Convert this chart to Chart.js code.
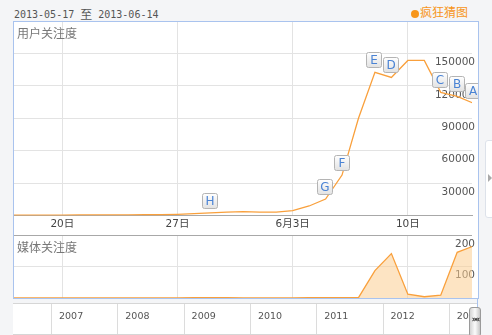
<!DOCTYPE html>
<html>
<head>
<meta charset="utf-8">
<script src="https://cdn.jsdelivr.net/npm/chart.js@4.4.0/dist/chart.umd.min.js"></script>
<style>
    html, body { margin: 0; padding: 0; }
    body { width: 492px; height: 335px; background: #f4f5f7; position: relative; overflow: hidden;
           font-family: "DejaVu Sans", "Noto Sans CJK SC", sans-serif; }
    #rango { position: absolute; left: 14px; top: 4px; font: 10px "DejaVu Sans Mono", monospace; color: #555; }
    #rango span { font: 12px "Noto Sans CJK SC"; position: relative; top: 1px; }
    #palabra { position: absolute; left: 411px; top: 3px; font: 12px "Noto Sans CJK SC"; color: #f7961b; }
    #palabra i { display: inline-block; width: 8px; height: 8px; border-radius: 50%; background: #f7961b;
                 margin-right: 1px; vertical-align: -1px; }
    #cajaTop { position: absolute; left: 13px; top: 21px; width: 465px; height: 214px; background: #fff; }
    #cajaMedia { position: absolute; left: 13px; top: 235px; width: 465px; height: 63px; background: #fff; }
    .titulo { position: absolute; left: 17px; font: 12px "Noto Sans CJK SC"; color: #777; }
    #marco { position: absolute; left: 13px; top: 21px; width: 466px; height: 278px; box-sizing: border-box;
             border: 1px solid #a9c3ee; pointer-events: none; }
    #marcoDer { position: absolute; left: 477px; top: 298px; width: 1px; height: 37px; background: #a9c3ee; }
    #linea { position: absolute; left: 13px; top: 303px; width: 465px; height: 32px; box-sizing: border-box;
             background: #fff; border-top: 1px solid #d6d6d6; border-bottom: 1px solid #d6d6d6; overflow: hidden; }
    .celda { position: absolute; top: 0; height: 32px; width: 66px; border-left: 1px solid #dcdcdc;
             font: 9.5px "DejaVu Sans"; color: #555; line-height: 24px; text-indent: 7px; }
    #asa { position: absolute; left: 469px; top: 307px; width: 12px; height: 30px; box-sizing: border-box;
           border: 1px solid #9a9a9a; border-radius: 3px;
           background: linear-gradient(to right, #d4d4d4, #fbfbfb 50%, #c8c8c8); 
           font: bold 8px "DejaVu Sans"; color: #222; text-align: center; line-height: 24px; letter-spacing: -2px; }
    #pestana { position: absolute; left: 485px; top: 140px; width: 12px; height: 78px; box-sizing: border-box;
               background: #fff; border: 1px solid #dde2ea; border-radius: 3px; }
    #pestana b { position: absolute; left: 2px; top: 33px; width: 0; height: 0; border-left: 4px solid #aaa;
                 border-top: 4px solid transparent; border-bottom: 4px solid transparent; }
</style>
</head>
<body>
<div id="rango">2013-05-17 <span>至</span> 2013-06-14</div>
<div id="palabra"><i></i>疯狂猜图</div>

<div id="cajaTop"><canvas id="graficaUsuario" width="465" height="214"></canvas></div>
<div id="cajaMedia"><canvas id="graficaMedia" width="465" height="63"></canvas></div>
<div class="titulo" style="top:24px">用户关注度</div>
<div class="titulo" style="top:238px">媒体关注度</div>

<div id="linea"></div>
<div id="marco"></div>
<div id="marcoDer"></div>
<div id="asa">»«</div>
<div id="pestana"><b></b></div>

<script>
// datos (2013-05-17 .. 2013-06-14, un punto por día)
const dias = ['05-17','05-18','05-19','05-20','05-21','05-22','05-23','05-24','05-25','05-26',
              '05-27','05-28','05-29','05-30','05-31','06-01','06-02','06-03','06-04','06-05',
              '06-06','06-07','06-08','06-09','06-10','06-11','06-12','06-13','06-14'];
const usuario = [300, 300, 400, 400, 500, 500, 600, 600, 700, 700,
                 1100, 1800, 2500, 3200, 3500, 3200, 3200, 4600, 8800, 15200,
                 37400, 90000, 132500, 127800, 143500, 143500, 114000, 110300, 103800];
const media = [0, 0, 0, 0, 0, 0, 0, 0, 0, 0,
               0, 1, 1, 1, 0, 0, 0, 0, 1, 1,
               1, 1, 87, 141, 12, 4, 9, 145, 165];
const ticksX = [3, 10, 17, 24];
const etiquetasX = ['20日', '27日', '6月3日', '10日'];
const ticksUsuario = [30000, 60000, 90000, 120000, 150000];
const ticksMedia = [100, 200];
const anios = ['2007', '2008', '2009', '2010', '2011', '2012', '2013'];
const letras = ['A', 'B', 'C', 'D', 'E', 'F', 'G', 'H'];
const letrasDia = [28, 27, 26, 23, 22, 20, 19, 12];

const naranja = '#f9a03c';
const gris = '#e3e3e3';

// sin relleno extra alrededor de las escalas
const sinPadding = s => { s.paddingTop = 0; s.paddingBottom = 0; s.paddingLeft = 0; s.paddingRight = 0; };

document.addEventListener('DOMContentLoaded', () => {

    // barra de años abajo
    const linea = document.getElementById('linea');
    anios.forEach((a, k) => {
        const c = document.createElement('div');
        c.className = 'celda';
        c.style.left = (38 + k * 66.3) + 'px';
        c.textContent = a;
        linea.appendChild(c);
    });

    // cajitas con letras sobre la curva
    const marcadores = {
        id: 'marcadores',
        afterDatasetsDraw(chart) {
            const { ctx, scales: { x, y } } = chart;
            ctx.save();
            letras.forEach((l, k) => {
                const d = letrasDia[k];
                const px = x.getPixelForValue(d);
                const py = y.getPixelForValue(usuario[d]);
                const w = 15, h = 15;
                const bx = Math.round(px - 1 - w / 2) + 0.5;
                const by = Math.round(py - 5 - h) + 0.5;
                const g = ctx.createLinearGradient(0, by, 0, by + h);
                g.addColorStop(0, '#ffffff');
                g.addColorStop(1, '#e2e2e2');
                ctx.beginPath();
                ctx.roundRect(bx, by, w, h, 2);
                ctx.fillStyle = g;
                ctx.fill();
                ctx.strokeStyle = '#b4b4b4';
                ctx.lineWidth = 1;
                ctx.stroke();
                ctx.fillStyle = '#4a83d4';
                ctx.font = '12px "DejaVu Sans"';
                ctx.textAlign = 'center';
                ctx.textBaseline = 'middle';
                ctx.fillText(l, bx + w / 2, by + h / 2 + 1);
            });
            ctx.restore();
        }
    };

    const fuenteY = { family: '"DejaVu Sans"', size: 10.5 };

    // gráfica de usuario
    new Chart(document.getElementById('graficaUsuario'), {
        type: 'line',
        data: {
            datasets: [{
                data: usuario.map((v, i) => ({ x: i, y: v })),
                borderColor: naranja,
                borderWidth: 1.3,
                pointRadius: 0,
                tension: 0,
                fill: false
            }]
        },
        options: {
            responsive: false,
            animation: false,
            layout: { padding: 0 },
            plugins: { legend: { display: false }, tooltip: { enabled: false } },
            scales: {
                x: {
                    type: 'linear', min: 0, max: 27.9,
                    afterBuildTicks: s => { s.ticks = ticksX.map(v => ({ value: v })); },
                    afterFit: s => { s.height = 19.5; sinPadding(s); },
                    ticks: {
                        callback: (v, i) => etiquetasX[i],
                        font: { family: '"DejaVu Sans", "Noto Sans CJK SC"', size: 10.5 },
                        color: '#444', padding: 2, maxRotation: 0, autoSkip: false
                    },
                    grid: { color: gris, drawTicks: false },
                    border: { color: '#a8a8a8' }
                },
                y: {
                    position: 'right', min: 0, max: 180000,
                    afterBuildTicks: s => { s.ticks = [0, ...ticksUsuario, 180000].map(v => ({ value: v })); },
                    afterFit: sinPadding,
                    ticks: {
                        mirror: true, padding: 3, labelOffset: 9,
                        callback: v => ticksUsuario.includes(v) ? String(v) : '',
                        font: fuenteY, color: '#555'
                    },
                    grid: {
                        color: c => ticksUsuario.includes(c.tick.value) ? gris : 'rgba(0,0,0,0)',
                        drawTicks: false
                    },
                    border: { display: false }
                }
            }
        },
        plugins: [marcadores]
    });

    // gráfica de medios
    new Chart(document.getElementById('graficaMedia'), {
        type: 'line',
        data: {
            datasets: [{
                data: media.map((v, i) => ({ x: i, y: v })),
                borderColor: naranja,
                borderWidth: 1.3,
                backgroundColor: 'rgba(252, 205, 145, 0.55)',
                pointRadius: 0,
                tension: 0,
                fill: 'origin'
            }]
        },
        options: {
            responsive: false,
            animation: false,
            layout: { padding: 0 },
            plugins: { legend: { display: false }, tooltip: { enabled: false } },
            scales: {
                x: {
                    type: 'linear', min: 0, max: 27.9,
                    afterBuildTicks: s => { s.ticks = ticksX.map(v => ({ value: v })); },
                    afterFit: s => { s.height = 0; sinPadding(s); },
                    ticks: { display: false },
                    grid: { color: gris, drawTicks: false },
                    border: { display: false }
                },
                y: {
                    position: 'right', min: 0, max: 200,
                    afterBuildTicks: s => { s.ticks = [0, ...ticksMedia].map(v => ({ value: v })); },
                    afterFit: sinPadding,
                    ticks: {
                        mirror: true, padding: 3, labelOffset: 9,
                        callback: v => ticksMedia.includes(v) ? String(v) : '',
                        font: fuenteY, color: '#555'
                    },
                    grid: {
                        color: c => c.tick.value === 200 ? '#a8a8a8' : (c.tick.value === 100 ? gris : 'rgba(0,0,0,0)'),
                        drawTicks: false
                    },
                    border: { display: false }
                }
            }
        }
    });
});
</script>
</body>
</html>
